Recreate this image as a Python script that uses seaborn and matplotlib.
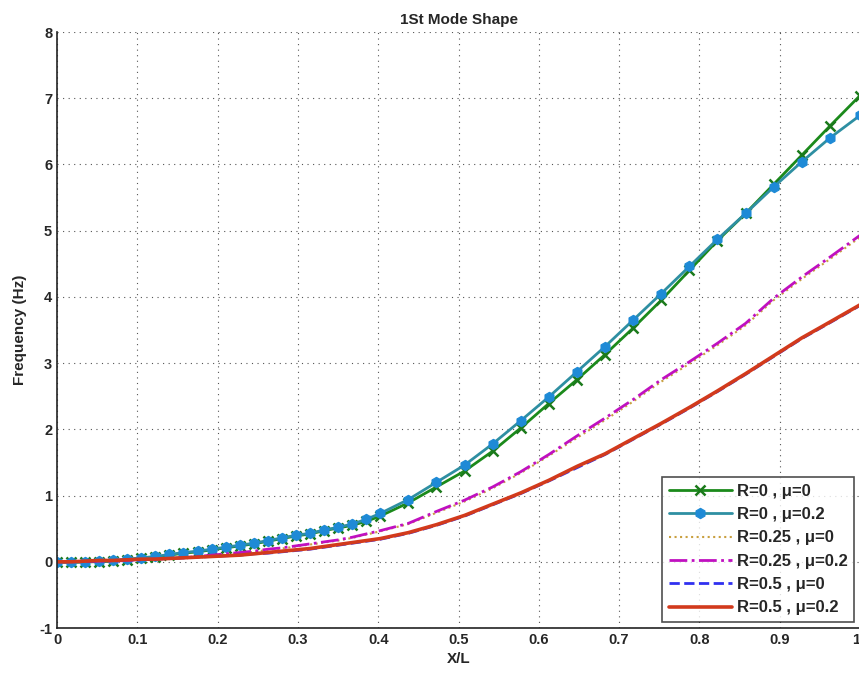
import matplotlib
matplotlib.use("Agg")
import matplotlib.pyplot as plt
import seaborn as sns

# x positions (X/L) of the samples
x_pos = [0, 0.0175, 0.035, 0.0525, 0.07, 0.0875, 0.105, 0.1225, 0.14, 0.1575,
         0.175, 0.1925, 0.21, 0.2275, 0.245, 0.2625, 0.28, 0.2975, 0.315, 0.3325,
         0.35, 0.3675, 0.385, 0.4025, 0.4375, 0.4725, 0.5075, 0.5425, 0.5775, 0.6125,
         0.6475, 0.6825, 0.7175, 0.7525, 0.7875, 0.8225, 0.8575, 0.8925, 0.9275, 0.9625, 1.0]

# R=0 , mu=0
r0_mu0 = [0, -0.01, 0.0, 0.0, 0.01, 0.03, 0.05, 0.07, 0.10, 0.13,
          0.15, 0.18, 0.21, 0.24, 0.27, 0.31, 0.35, 0.39, 0.42, 0.47,
          0.51, 0.55, 0.61, 0.69, 0.89, 1.13, 1.37, 1.67, 2.02, 2.39,
          2.75, 3.13, 3.53, 3.95, 4.40, 4.85, 5.26, 5.70, 6.14, 6.58, 7.04]
# R=0 , mu=0.2
r0_mu02 = [0, -0.01, 0.0, 0.01, 0.02, 0.04, 0.06, 0.08, 0.11, 0.14,
           0.16, 0.19, 0.22, 0.25, 0.28, 0.32, 0.36, 0.40, 0.43, 0.48,
           0.52, 0.57, 0.64, 0.73, 0.94, 1.20, 1.46, 1.78, 2.13, 2.49,
           2.87, 3.25, 3.65, 4.05, 4.46, 4.87, 5.26, 5.66, 6.04, 6.40, 6.74]
# R=0.25 , mu=0
r025_mu0 = [0, 0, 0, 0.01, 0.01, 0.02, 0.03, 0.04, 0.05, 0.06,
            0.07, 0.09, 0.11, 0.13, 0.15, 0.18, 0.20, 0.23, 0.26, 0.29,
            0.32, 0.36, 0.41, 0.46, 0.57, 0.74, 0.91, 1.11, 1.34, 1.60,
            1.87, 2.14, 2.42, 2.72, 2.99, 3.27, 3.57, 3.95, 4.27, 4.57, 4.90]
# R=0.25 , mu=0.2
r025_mu02 = [0, 0, 0, 0.01, 0.01, 0.02, 0.03, 0.04, 0.05, 0.06,
             0.08, 0.10, 0.12, 0.14, 0.16, 0.19, 0.21, 0.24, 0.27, 0.30,
             0.33, 0.37, 0.42, 0.47, 0.58, 0.76, 0.93, 1.13, 1.36, 1.62,
             1.90, 2.17, 2.45, 2.75, 3.02, 3.30, 3.60, 3.98, 4.30, 4.60, 4.93]
# R=0.5 , mu=0
r05_mu0 = [0, 0, 0.01, 0.01, 0.02, 0.03, 0.03, 0.04, 0.05, 0.06,
           0.07, 0.08, 0.09, 0.10, 0.12, 0.13, 0.15, 0.17, 0.19, 0.22,
           0.25, 0.28, 0.31, 0.34, 0.43, 0.55, 0.69, 0.86, 1.03, 1.22,
           1.42, 1.62, 1.85, 2.08, 2.32, 2.57, 2.83, 3.10, 3.37, 3.61, 3.87]
# R=0.5 , mu=0.2
r05_mu02 = [0, 0, 0.01, 0.02, 0.02, 0.03, 0.04, 0.04, 0.05, 0.06,
            0.07, 0.08, 0.09, 0.10, 0.12, 0.14, 0.16, 0.18, 0.20, 0.23,
            0.26, 0.29, 0.32, 0.35, 0.44, 0.56, 0.70, 0.87, 1.04, 1.23,
            1.44, 1.63, 1.86, 2.09, 2.33, 2.58, 2.84, 3.11, 3.38, 3.62, 3.88]

x_ticks = [0, 0.1, 0.2, 0.3, 0.4, 0.5, 0.6, 0.7, 0.8, 0.9, 1]
x_tick_labels = ["0", "0.1", "0.2", "0.3", "0.4", "0.5", "0.6", "0.7", "0.8", "0.9", "1"]
y_ticks = [-1, 0, 1, 2, 3, 4, 5, 6, 7, 8]

sns.set_style("white")
plt.rcParams["font.family"] = ["Liberation Sans", "DejaVu Sans"]
plt.rcParams["font.weight"] = "bold"
plt.rcParams["axes.unicode_minus"] = False

fig = plt.figure(figsize=(8.59, 6.75), dpi=100)
ax = fig.add_axes([57 / 859, 47 / 675, 803 / 859, 596 / 675])

# the six curves
sns.lineplot(x=x_pos, y=r0_mu0, ax=ax, color="#1b8a1b", linewidth=2,
             marker="x", markersize=7, markeredgewidth=1.8,
             markeredgecolor="#1b7a1b", label="R=0 , \u03bc=0")
sns.lineplot(x=x_pos, y=r0_mu02, ax=ax, color="#2e8fa2", linewidth=2,
             marker="h", markersize=7.5, markerfacecolor="#1e8ad6",
             markeredgecolor="#1e8ad6", label="R=0 , \u03bc=0.2")
sns.lineplot(x=x_pos, y=r025_mu0, ax=ax, color="#c9a040", linewidth=1.5,
             linestyle=":", label="R=0.25 , \u03bc=0")
sns.lineplot(x=x_pos, y=r025_mu02, ax=ax, color="#c010c0", linewidth=2,
             linestyle="-.", label="R=0.25 , \u03bc=0.2")
sns.lineplot(x=x_pos, y=r05_mu0, ax=ax, color="#3030f0", linewidth=2,
             linestyle="--", label="R=0.5 , \u03bc=0")
sns.lineplot(x=x_pos, y=r05_mu02, ax=ax, color="#d23a1c", linewidth=2.6,
             label="R=0.5 , \u03bc=0.2")

ax.set_xlim(0, 1)
ax.set_ylim(-1, 8)
ax.set_xticks(x_ticks)
ax.set_xticklabels(x_tick_labels)
ax.set_yticks(y_ticks)
ax.tick_params(direction="in", length=5, width=1, labelsize=10.5, color="#222222")
for lab in ax.get_xticklabels() + ax.get_yticklabels():
    lab.set_fontweight("bold")
# last x label sits on the figure edge, keep it inside
ax.get_xticklabels()[-1].set_horizontalalignment("right")

ax.grid(True, color="#555555", linewidth=0.8, linestyle=(0, (1, 4)))
for side in ["top", "right"]:
    ax.spines[side].set_visible(False)
for side in ["left", "bottom"]:
    ax.spines[side].set_color("#222222")
    ax.spines[side].set_linewidth(1.2)

ax.set_title("1St Mode Shape", fontsize=11, fontweight="bold", pad=6)
ax.set_xlabel("X/L", fontsize=11, fontweight="bold", labelpad=4)
ax.set_ylabel("Frequency (Hz)", fontsize=11, fontweight="bold", labelpad=9)

leg = ax.legend(loc="lower right", bbox_to_anchor=(0.993, 0.01), fontsize=12,
                frameon=True, fancybox=False, handlelength=3.8, labelspacing=0.5,
                borderpad=0.4, handletextpad=0.3, borderaxespad=0)
leg.get_frame().set_edgecolor("#222222")
leg.get_frame().set_linewidth(1.2)
for t in leg.get_texts():
    t.set_fontweight("bold")

fig.savefig("out.png", dpi=100)
